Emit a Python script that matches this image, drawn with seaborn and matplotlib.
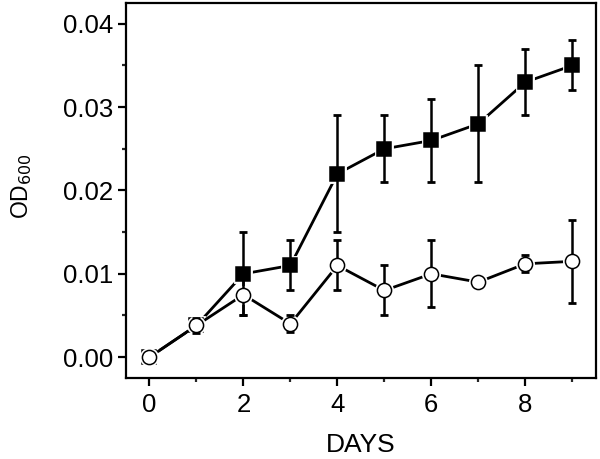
import numpy as np
import pandas as pd
import matplotlib
matplotlib.use("Agg")
import matplotlib.pyplot as plt
import seaborn as sns
from matplotlib.ticker import MultipleLocator, FormatStrFormatter

# --- data ---
days = [0, 1, 2, 3, 4, 5, 6, 7, 8, 9]
filled_od = [0.0, 0.0038, 0.010, 0.011, 0.022, 0.025, 0.026, 0.028, 0.033, 0.035]
filled_err = [0.0, 0.0, 0.005, 0.003, 0.007, 0.004, 0.005, 0.007, 0.004, 0.003]
open_od = [0.0, 0.0038, 0.0075, 0.004, 0.011, 0.008, 0.010, 0.009, 0.0112, 0.0115]
open_err = [0.0, 0.0009, 0.0025, 0.001, 0.003, 0.003, 0.004, 0.0004, 0.001, 0.005]

df = pd.DataFrame({
    "DAYS": days * 2,
    "OD": filled_od + open_od,
    "err": filled_err + open_err,
    "group": ["filled"] * len(days) + ["open"] * len(days),
})

sns.set_style("ticks")
plt.rcParams["font.family"] = ["Liberation Sans", "DejaVu Sans"]
plt.rcParams["text.color"] = "black"
plt.rcParams["axes.labelcolor"] = "black"

fig = plt.figure(figsize=(6, 4.59), dpi=100)
ax = fig.add_axes([0.21, 0.1765, 0.783, 0.817])

styles = {
    "filled": dict(marker="s", mfc="black", ms=9.5, z=3),
    "open": dict(marker="o", mfc="white", ms=10.2, z=6),
}
for name, sub in df.groupby("group"):
    st = styles[name]
    # connecting line with a white halo round each point (Origin-style gap)
    sns.lineplot(data=sub, x="DAYS", y="OD", ax=ax, color="black",
                 linewidth=2.0, marker=st["marker"], markersize=st["ms"],
                 markerfacecolor="white", markeredgecolor="white",
                 markeredgewidth=3.5, zorder=st["z"], legend=False,
                 errorbar=None)
    ax.errorbar(sub["DAYS"], sub["OD"], yerr=sub["err"], fmt="none",
                ecolor="black", elinewidth=1.8, capsize=3, capthick=2.0,
                zorder=st["z"] + 0.5)
    ax.plot(sub["DAYS"], sub["OD"], linestyle="none", marker=st["marker"],
            markersize=st["ms"], markerfacecolor=st["mfc"],
            markeredgecolor="black", markeredgewidth=1.1,
            zorder=st["z"] + 1)

ax.set_xlim(-0.5, 9.5)
ax.set_ylim(-0.0025, 0.0425)
ax.xaxis.set_major_locator(MultipleLocator(2))
ax.xaxis.set_minor_locator(MultipleLocator(1))
ax.yaxis.set_major_locator(MultipleLocator(0.01))
ax.yaxis.set_minor_locator(MultipleLocator(0.005))
ax.yaxis.set_major_formatter(FormatStrFormatter("%.2f"))

for s in ax.spines.values():
    s.set_visible(True)
    s.set_linewidth(1.6)
    s.set_color("black")
ax.tick_params(which="major", direction="out", length=6, width=1.6,
               labelsize=18.5, colors="black")
ax.tick_params(axis="x", which="major", pad=5)
ax.tick_params(which="minor", direction="out", length=3, width=1.6)

ax.set_xlabel("DAYS", fontsize=19, labelpad=11)
ax.set_ylabel("OD$_{600}$", fontsize=16.5)
ax.yaxis.set_label_coords(-0.195, 0.513)

fig.savefig("out.png", dpi=100)
